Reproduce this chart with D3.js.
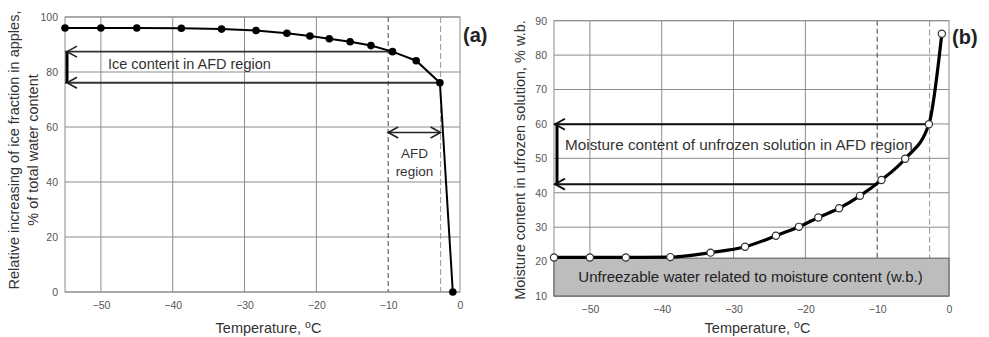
<!DOCTYPE html>
<html>
<head>
<meta charset="utf-8">
<script src="https://cdn.jsdelivr.net/npm/d3@7"></script>
<style>
  html, body { margin: 0; padding: 0; background: #fff; }
  svg { display: block; font-family: Arial, "Liberation Sans", sans-serif; }
</style>
</head>
<body>
<div id="chart"></div>
<script>
// ---- data ----
const temps = [-55, -50, -45, -38.8, -33.2, -28.4, -24.1, -20.9, -18.2, -15.3, -12.4, -9.4, -6.1, -2.8, -1.0];
const iceFraction = [96, 96, 96, 95.9, 95.6, 95.1, 94.1, 93.1, 92.1, 91, 89.6, 87.4, 84.1, 76.1, 0];
const moisture = [21.2, 21.2, 21.2, 21.3, 22.6, 24.3, 27.5, 30.1, 32.8, 35.5, 39.1, 43.7, 49.9, 59.9, 86.2];

const xTicks = [-50, -40, -30, -20, -10, 0];
const yTicksA = [0, 20, 40, 60, 80, 100];
const yTicksB = [10, 20, 30, 40, 50, 60, 70, 80, 90];

const afdBounds = [-10, -2.7];        // dashed verticals
const iceArrows = [87.4, 76.1];       // panel (a) bracket levels
const iceArrowEnds = [-9.4, -2.8];
const moistArrows = [59.9, 42.5];     // panel (b) bracket levels
const moistArrowEnds = [-2.8, -10];
const unfreezable = 21;               // grey band top, % w.b.

const COLOR = { grid: "#8c8c8c", tick: "#555", text: "#333", line: "#000", band: "#bdbdbd" };

const W = 989, H = 337;
const svg = d3.select("#chart").append("svg").attr("width", W).attr("height", H);

// panel frame helper: grid, ticks, border
function panel(box, yDomain, yTicks) {
  const x = d3.scaleLinear().domain([-55, 0]).range([box.x0, box.x1]);
  const y = d3.scaleLinear().domain(yDomain).range([box.y1, box.y0]);
  const g = svg.append("g");

  g.append("g").selectAll("line").data(yTicks).join("line")
    .attr("x1", box.x0).attr("x2", box.x1)
    .attr("y1", d => y(d)).attr("y2", d => y(d))
    .attr("stroke", COLOR.grid).attr("stroke-width", 1);
  g.append("g").selectAll("line").data(xTicks.filter(t => t < -15)).join("line")
    .attr("x1", d => x(d)).attr("x2", d => x(d))
    .attr("y1", box.y0).attr("y2", box.y1)
    .attr("stroke", COLOR.grid).attr("stroke-width", 1);
  // AFD boundaries
  g.append("line")
    .attr("x1", x(afdBounds[0])).attr("x2", x(afdBounds[0]))
    .attr("y1", box.y0).attr("y2", box.y1)
    .attr("stroke", "#444").attr("stroke-dasharray", "5,3");
  g.append("line")
    .attr("x1", x(afdBounds[1])).attr("x2", x(afdBounds[1]))
    .attr("y1", box.y0).attr("y2", box.y1)
    .attr("stroke", "#999").attr("stroke-dasharray", "6,3");

  g.append("rect")
    .attr("x", box.x0).attr("y", box.y0)
    .attr("width", box.x1 - box.x0).attr("height", box.y1 - box.y0)
    .attr("fill", "none").attr("stroke", COLOR.grid);

  // axes (labels only)
  const ax = g.append("g").attr("transform", `translate(0,${box.y1})`)
    .call(d3.axisBottom(x).tickValues(xTicks).tickSize(0).tickPadding(10));
  const ay = g.append("g").attr("transform", `translate(${box.x0},0)`)
    .call(d3.axisLeft(y).tickValues(yTicks).tickSize(0).tickPadding(7));
  [ax, ay].forEach(a => {
    a.select(".domain").remove();
    a.selectAll("text").attr("font-size", 10.5).attr("fill", COLOR.tick)
      .attr("font-family", "Arial, 'Liberation Sans', sans-serif");
  });

  // x title with raised "o"
  const t = g.append("text")
    .attr("x", (box.x0 + box.x1) / 2 + 6).attr("y", 333)
    .attr("text-anchor", "middle").attr("font-size", 14.5).attr("fill", COLOR.text);
  t.append("tspan").text("Temperature, ");
  t.append("tspan").attr("dy", -5).attr("font-size", 10.5).text("o");
  t.append("tspan").attr("dy", 5).text("C");
  return { x, y, g };
}

function chevron(g, px, py, dir, color, w) {
  g.append("path")
    .attr("d", `M${px + dir * 10},${py - 5.5} L${px},${py} L${px + dir * 10},${py + 5.5}`)
    .attr("fill", "none").attr("stroke", color).attr("stroke-width", w);
}

// ---- panel (a) ----
const A = panel({ x0: 65, x1: 460, y0: 17, y1: 292 }, [0, 100], yTicksA);

A.g.selectAll(".arrA").data(iceArrows).join("line")
  .attr("x1", A.x(-55)).attr("x2", (d, i) => A.x(iceArrowEnds[i]))
  .attr("y1", d => A.y(d)).attr("y2", d => A.y(d))
  .attr("stroke", "#333").attr("stroke-width", 1.8);
A.g.append("line")
  .attr("x1", A.x(-55) + 2).attr("x2", A.x(-55) + 2)
  .attr("y1", A.y(iceArrows[0])).attr("y2", A.y(iceArrows[1]))
  .attr("stroke", "#000").attr("stroke-width", 3);
iceArrows.forEach(v => chevron(A.g, A.x(-55) + 2, A.y(v), 1, "#222", 1.6));
A.g.append("text").attr("x", 108).attr("y", A.y(iceArrows[0]) + 17)
  .attr("font-size", 14.5).attr("fill", COLOR.text).text("Ice content in AFD region");

// AFD region double arrow
const afdY = A.y(58);
A.g.append("line").attr("x1", A.x(afdBounds[0])).attr("x2", A.x(afdBounds[1]))
  .attr("y1", afdY).attr("y2", afdY).attr("stroke", "#222").attr("stroke-width", 1.6);
chevron(A.g, A.x(afdBounds[0]), afdY, 1, "#222", 1.6);
chevron(A.g, A.x(afdBounds[1]), afdY, -1, "#222", 1.6);
const afdMid = (A.x(afdBounds[0]) + A.x(afdBounds[1])) / 2;
A.g.append("text").attr("x", afdMid).attr("y", 158).attr("text-anchor", "middle")
  .attr("font-size", 13.5).attr("fill", COLOR.text).text("AFD");
A.g.append("text").attr("x", afdMid).attr("y", 176).attr("text-anchor", "middle")
  .attr("font-size", 13.5).attr("fill", COLOR.text).text("region");

const ptsA = temps.map((t, i) => [t, iceFraction[i]]);
A.g.append("path").datum(ptsA)
  .attr("d", d3.line().x(d => A.x(d[0])).y(d => A.y(d[1])))
  .attr("fill", "none").attr("stroke", COLOR.line).attr("stroke-width", 2);
A.g.selectAll(".ptA").data(ptsA).join("circle")
  .attr("cx", d => A.x(d[0])).attr("cy", d => A.y(d[1])).attr("r", 3.8)
  .attr("fill", "#000");

// y title (two lines)
[["Relative increasing of ice fraction in apples,", 14], ["% of total water content", 33]].forEach(([s, cx]) => {
  svg.append("text").attr("transform", `translate(${cx + 5},150) rotate(-90)`)
    .attr("text-anchor", "middle").attr("font-size", 14.5).attr("fill", COLOR.text).text(s);
});
svg.append("text").attr("x", 463).attr("y", 42).attr("font-size", 20).attr("font-weight", "bold")
  .attr("fill", "#222").text("(a)");

// ---- panel (b) ----
const B = panel({ x0: 554, x1: 949, y0: 20.7, y1: 296 }, [10, 90], yTicksB);

B.g.append("rect")
  .attr("x", B.x(-55)).attr("y", B.y(unfreezable))
  .attr("width", B.x(0) - B.x(-55)).attr("height", B.y(10) - B.y(unfreezable))
  .attr("fill", COLOR.band).attr("stroke", "#555");
B.g.append("text").attr("x", (B.x(-55) + B.x(0)) / 2 - 1).attr("y", 282)
  .attr("text-anchor", "middle").attr("font-size", 15).attr("fill", "#222")
  .text("Unfreezable water related to moisture content (w.b.)");

B.g.selectAll(".arrB").data(moistArrows).join("line")
  .attr("x1", B.x(-55)).attr("x2", (d, i) => B.x(moistArrowEnds[i]))
  .attr("y1", d => B.y(d)).attr("y2", d => B.y(d))
  .attr("stroke", "#111").attr("stroke-width", 2);
B.g.append("line")
  .attr("x1", B.x(-55) + 3).attr("x2", B.x(-55) + 3)
  .attr("y1", B.y(moistArrows[0])).attr("y2", B.y(moistArrows[1]))
  .attr("stroke", "#000").attr("stroke-width", 3);
moistArrows.forEach(v => chevron(B.g, B.x(-55) + 1, B.y(v), 1, "#111", 1.8));
B.g.append("text").attr("x", 565).attr("y", 150)
  .attr("font-size", 15.3).attr("fill", COLOR.text).text("Moisture content of unfrozen solution in AFD region");

const ptsB = temps.map((t, i) => [t, moisture[i]]);
B.g.append("path").datum(ptsB)
  .attr("d", d3.line().x(d => B.x(d[0])).y(d => B.y(d[1])).curve(d3.curveMonotoneX))
  .attr("fill", "none").attr("stroke", COLOR.line).attr("stroke-width", 3.2);
B.g.selectAll(".ptB").data(ptsB).join("circle")
  .attr("cx", d => B.x(d[0])).attr("cy", d => B.y(d[1])).attr("r", 3.6)
  .attr("fill", "#fff").attr("stroke", "#333").attr("stroke-width", 1.2);

svg.append("text").attr("transform", "translate(525,160) rotate(-90)")
  .attr("text-anchor", "middle").attr("font-size", 14.5).attr("fill", COLOR.text)
  .text("Moisture content in ufrozen solution, % w.b.");
svg.append("text").attr("x", 952).attr("y", 44).attr("font-size", 20).attr("font-weight", "bold")
  .attr("fill", "#222").text("(b)");
</script>
</body>
</html>
